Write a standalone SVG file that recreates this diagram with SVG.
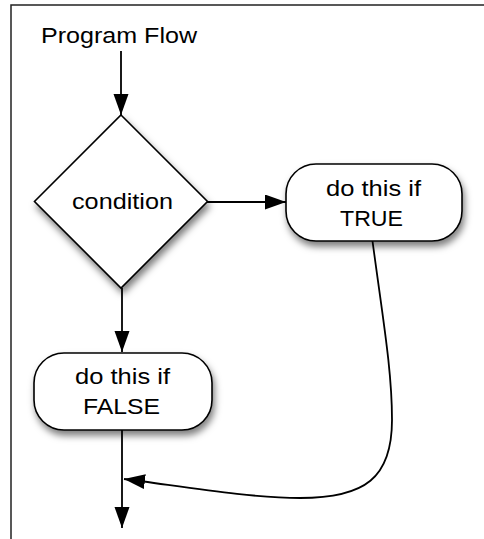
<svg xmlns="http://www.w3.org/2000/svg" width="484" height="539" viewBox="0 0 484 539">
<style>
text{font-family:"Liberation Sans",Arial,sans-serif;font-size:22.5px;fill:#000}
.shape{fill:#fff;stroke:#000;stroke-width:1.6;filter:url(#sh)}
.conn{fill:none;stroke:#000;stroke-width:1.8}
.frame{fill:none;stroke:#222;stroke-width:1.5}
</style>
<defs>
<filter id="sh" x="-20%" y="-20%" width="150%" height="150%">
<feDropShadow dx="2" dy="5" stdDeviation="3.5" flood-color="#000" flood-opacity="0.5"/>
</filter>
<marker id="ah" markerUnits="userSpaceOnUse" markerWidth="22" markerHeight="16" refX="21" refY="7.5" orient="auto">
<path d="M0,0 L21,7.5 L0,15 Z" fill="#000"/>
</marker>
</defs>
<path class="frame" d="M11,539 L11,5 L484,5"/>
<text x="41" y="43" textLength="156" lengthAdjust="spacingAndGlyphs">Program Flow</text>
<g id="connectors">
<line class="conn" x1="121" y1="51" x2="121" y2="115" marker-end="url(#ah)"/>
<line class="conn" x1="207" y1="202" x2="286" y2="202" marker-end="url(#ah)"/>
<line class="conn" x1="122" y1="288" x2="122" y2="352" marker-end="url(#ah)"/>
<line class="conn" x1="122" y1="430" x2="122" y2="528" marker-end="url(#ah)"/>
<path class="conn" d="M372.5,241 C383,320 392,370 392,420 C392,478 365,498 300,498 C250,498 180,486 124,479" marker-end="url(#ah)"/>
</g>
<g id="condition">
<polygon class="shape" points="121,115 207.5,201.5 121,288 34.5,201.5"/>
<text x="72" y="209" textLength="101" lengthAdjust="spacingAndGlyphs">condition</text>
</g>
<g id="true-box">
<rect class="shape" x="286" y="164" width="176" height="77" rx="30" ry="30"/>
<text x="326" y="195.5" textLength="95" lengthAdjust="spacingAndGlyphs">do this if</text>
<text x="340" y="226" textLength="63" lengthAdjust="spacingAndGlyphs">TRUE</text>
</g>
<g id="false-box">
<rect class="shape" x="34" y="353" width="178" height="77" rx="30" ry="30"/>
<text x="75" y="384" textLength="95" lengthAdjust="spacingAndGlyphs">do this if</text>
<text x="83" y="414" textLength="77" lengthAdjust="spacingAndGlyphs">FALSE</text>
</g>
</svg>
